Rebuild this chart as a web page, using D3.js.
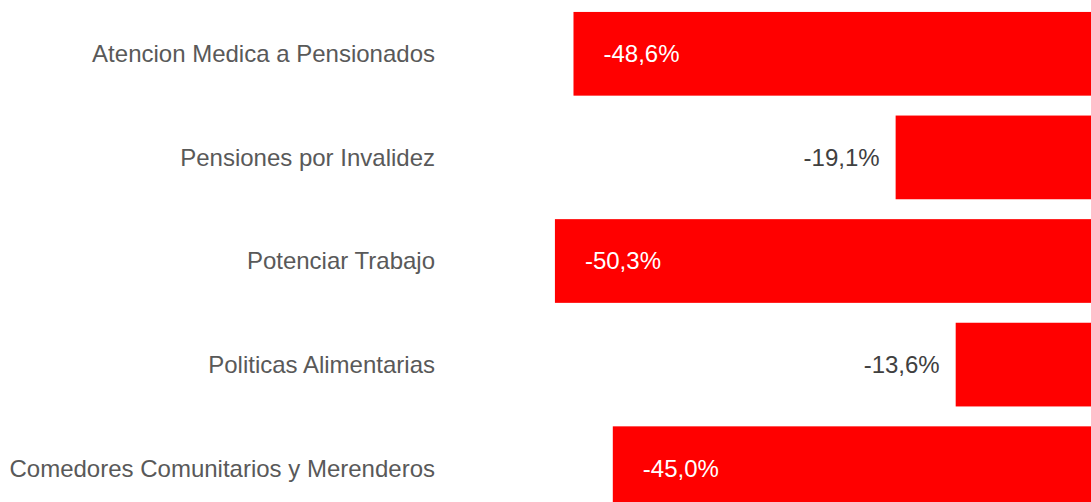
<!DOCTYPE html>
<html>
<head>
<meta charset="utf-8">
<script src="https://cdn.jsdelivr.net/npm/d3@7"></script>
<style>
  body { margin: 0; background: #fff; overflow: hidden; }
  svg { display: block; }
  text { font-family: "Liberation Sans", Arial, sans-serif; }
</style>
</head>
<body>
<div id="chart"></div>
<script>
// programas y variacion real (%)
const categories = [
  "Atencion Medica a Pensionados",
  "Pensiones por Invalidez",
  "Potenciar Trabajo",
  "Politicas Alimentarias",
  "Comedores Comunitarios y Merenderos"
];
const values = [-48.6, -19.1, -50.3, -13.6, -45.0];

const width = 1091, height = 502;

const svg = d3.select("#chart")
  .append("svg")
  .attr("width", width)
  .attr("height", height);

// --- Scales ---
const x = d3.scaleLinear()
  .domain([-60, 0])
  .range([449, 1104.2]);

const y = d3.scaleBand()
  .domain(categories)
  .range([2, 520])
  .paddingInner(0.192)
  .paddingOuter(0.096);

const fmt = v => d3.format(".1f")(v).replace(".", ",").replace("−", "-") + "%";

// --- Category labels ---
svg.append("g")
  .selectAll("text")
  .data(categories)
  .join("text")
  .attr("x", 435)
  .attr("y", d => y(d) + y.bandwidth() / 2)
  .attr("dy", "0.35em")
  .attr("text-anchor", "end")
  .style("font-size", "24px")
  .style("fill", "#595959")
  .text(d => d);

// --- Bars ---
const data = categories.map((c, i) => ({ cat: c, val: values[i] }));

svg.append("g")
  .selectAll("rect")
  .data(data)
  .join("rect")
  .attr("x", d => x(d.val))
  .attr("y", d => y(d.cat))
  .attr("width", d => x(0) - x(d.val))
  .attr("height", y.bandwidth())
  .attr("fill", "#ff0000");

// --- Value labels: inside for long bars, outside for short ---
svg.append("g")
  .selectAll("text")
  .data(data)
  .join("text")
  .attr("x", d => d.val < -30 ? x(d.val) + 30 : x(d.val) - 16)
  .attr("y", d => y(d.cat) + y.bandwidth() / 2)
  .attr("dy", "0.35em")
  .attr("text-anchor", d => d.val < -30 ? "start" : "end")
  .style("font-size", "24px")
  .style("fill", d => d.val < -30 ? "#ffffff" : "#404040")
  .text(d => fmt(d.val));
</script>
</body>
</html>
